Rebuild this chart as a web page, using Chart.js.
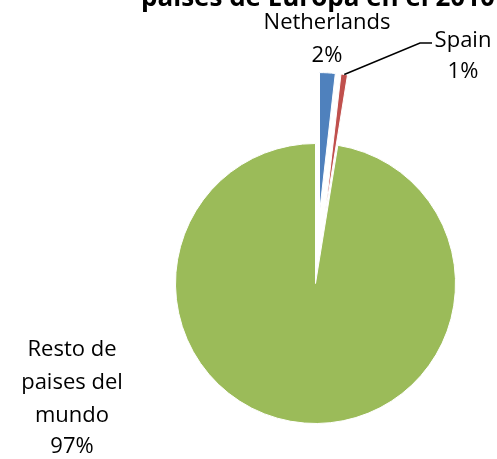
<!DOCTYPE html>
<html lang="es">
<head>
    <meta charset="UTF-8">
    <title>paises de Europa en el 2010</title>
    <script src="https://cdn.jsdelivr.net/npm/chart.js"></script>
    <style>
        body {
            margin: 0;
            background: #fff;
        }
        .chart-box {
            position: relative;
            width: 497px;
            height: 459px;
        }
    </style>
</head>
<body>
    <div class="chart-box">
        <canvas id="myChart"></canvas>
    </div>

    <script>
        // datos del grafico (porcentajes)
        const paises = ['Netherlands', 'Spain', 'Resto de paises del mundo'];
        const valores = [1.8, 0.75, 97.45];
        const colores = ['#4F81BD', '#C0504D', '#9BBB59'];
        const separados = [true, true, false];

        const tituloTexto = 'paises de Europa en el 2010';

        // posiciones de las etiquetas (centro x, linea base y de cada renglon)
        const etiquetaLineas = [
            ['Netherlands'],
            ['Spain'],
            ['Resto de', 'paises del', 'mundo']
        ];
        const etiquetaPos = [
            { x: 327, y: [29, 62] },
            { x: 463, y: [47, 78] },
            { x: 72, y: [356, 389, 422, 453] }
        ];
        const EXPLOSION = 71;
        const fuente = '"Open Sans", "DejaVu Sans", sans-serif';

        // mover las porciones separadas hacia afuera (como en Excel)
        const explotar = {
            id: 'explotar',
            afterDatasetsUpdate(chart) {
                const meta = chart.getDatasetMeta(0);
                meta.data.forEach((arc, i) => {
                    if (!separados[i]) return;
                    const mid = (arc.startAngle + arc.endAngle) / 2;
                    arc.x += Math.cos(mid) * EXPLOSION;
                    arc.y += Math.sin(mid) * EXPLOSION;
                });
            }
        };

        // titulo y etiquetas de datos
        const etiquetas = {
            id: 'etiquetas',
            afterDraw(chart) {
                const c = chart.ctx;
                const meta = chart.getDatasetMeta(0);
                const total = valores.reduce((a, b) => a + b, 0);
                c.save();
                c.fillStyle = '#000';
                c.textAlign = 'center';
                c.textBaseline = 'alphabetic';

                c.font = 'bold 26px ' + fuente;
                c.fillText(tituloTexto, 318, 6);

                c.font = '22px ' + fuente;
                etiquetaLineas.forEach((lineas, i) => {
                    const pct = Math.round(valores[i] / total * 100) + '%';
                    const todas = lineas.concat([pct]);
                    todas.forEach((t, j) => {
                        c.fillText(t, etiquetaPos[i].x, etiquetaPos[i].y[j]);
                    });
                });

                // linea guia de Spain
                const arc = meta.data[1];
                const mid = (arc.startAngle + arc.endAngle) / 2;
                const px = arc.x + Math.cos(mid) * arc.outerRadius;
                const py = arc.y + Math.sin(mid) * arc.outerRadius;
                c.strokeStyle = '#000';
                c.lineWidth = 1.5;
                c.beginPath();
                c.moveTo(px, py);
                c.lineTo(420, 43);
                c.lineTo(432, 43);
                c.stroke();
                c.restore();
            }
        };

        const ctx = document.getElementById('myChart').getContext('2d');
        const myChart = new Chart(ctx, {
            type: 'pie',
            data: {
                labels: paises,
                datasets: [{
                    data: valores,
                    backgroundColor: colores,
                    borderColor: '#fff',
                    borderWidth: 1
                }]
            },
            options: {
                responsive: true,
                maintainAspectRatio: false,
                animation: false,
                radius: 140,
                layout: {
                    padding: { left: 134, right: 0, top: 108, bottom: 0 }
                },
                plugins: {
                    legend: { display: false },
                    tooltip: { enabled: false }
                }
            },
            plugins: [explotar, etiquetas]
        });
    </script>
</body>
</html>
